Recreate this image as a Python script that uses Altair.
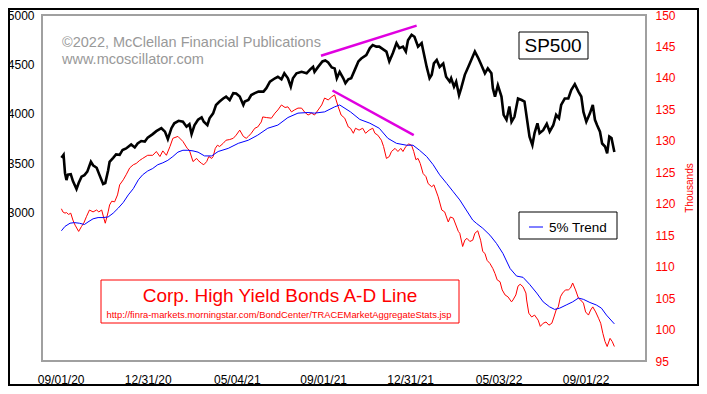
import altair as alt
import pandas as pd

START = "2020-09-01"

# (days since 2020-09-01, S&P 500 close)
sp500 = [(1,3555),(4,3585),(6,3400),(8,3330),(10,3385),(14,3390),(17,3320),(22,3240),(25,3300),(29,3365),
 (33,3380),(37,3415),(42,3515),(45,3480),(50,3455),(54,3380),(59,3290),(62,3300),(66,3430),(68,3515),
 (73,3555),(77,3590),(82,3585),(86,3635),(91,3650),(98,3690),(103,3660),(107,3700),(112,3725),(117,3720),
 (121,3760),(128,3795),(133,3825),(140,3855),(145,3820),(149,3745),(154,3855),(158,3905),(164,3930),(170,3920),
 (175,3870),(179,3895),(182,3795),(186,3885),(191,3940),(196,3965),(199,3920),(204,3885),(207,3955),(212,4005),
 (216,4090),(221,4125),(226,4155),(230,4175),(235,4140),(240,4210),(244,4205),(249,4175),(254,4090),(256,4125),
 (261,4140),(265,4190),(270,4210),(275,4225),(282,4225),(286,4260),(291,4325),(298,4360),(302,4375),(307,4350),
 (311,4410),(316,4360),(320,4275),(323,4360),(328,4410),(335,4425),(342,4410),(347,4450),(351,4475),(353,4425),
 (358,4475),(364,4530),(368,4540),(372,4520),(377,4470),(381,4460),(384,4360),(388,4425),(393,4360),(396,4310),
 (400,4350),(404,4360),(409,4445),(414,4530),(418,4560),(425,4595),(430,4665),(434,4695),(439,4680),(443,4680),
 (450,4645),(453,4630),(457,4530),(462,4615),(467,4715),(471,4665),(476,4680),(480,4630),(483,4745),(488,4800),
 (492,4780),(497,4680),(502,4715),(504,4645),(509,4475),(513,4360),(516,4395),(519,4510),(523,4545),(527,4475),
 (532,4510),(536,4375),(541,4325),(543,4360),(547,4275),(550,4325),(554,4190),(557,4260),(562,4395),(568,4495),
 (576,4630),(581,4560),(585,4495),(590,4410),(594,4460),(599,4410),(601,4260),(604,4175),(608,4290),(613,4175),
 (616,3990),(620,3940),(624,4075),(627,3920),(631,3970),(636,4155),(641,4140),(645,4125),(650,3870),(652,3770),
 (656,3685),(659,3805),(663,3905),(666,3805),(671,3835),(676,3900),(680,3820),(685,3885),(689,3990),(693,3955),
 (696,4090),(701,4155),(706,4155),(710,4240),(715,4300),(720,4225),(724,4175),(727,4020),(731,3920),(736,4005),
 (740,4090),(743,3940),(746,3885),(750,3820),(753,3700),(757,3670),(760,3600),(763,3770),(766,3755),(770,3615)]

# (days since 2020-09-01, Corp. High Yield Bonds A-D line, thousands)
ad_line = [(1,119.2),(3,118.7),(6,118.5),(8,118.6),(11,118.3),(14,118.5),(17,117.4),(20,116.6),(25,115.6),(29,116.4),
 (32,116.9),(36,118.0),(40,119.0),(45,118.7),(50,119.0),(53,118.7),(57,119.0),(60,117.7),(62,116.9),(66,118.7),
 (68,119.8),(71,120.4),(75,120.3),(79,121.4),(82,123.0),(87,123.8),(91,124.6),(96,125.7),(101,126.2),(105,126.4),
 (110,126.9),(114,127.2),(121,127.7),(128,127.7),(133,128.3),(138,127.5),(142,128.4),(147,127.7),(152,129.1),(156,130.4),
 (163,130.7),(170,129.9),(176,128.8),(179,128.5),(184,126.7),(189,127.2),(191,126.9),(196,126.4),(199,126.2),(203,126.7),
 (206,127.5),(210,127.2),(212,127.5),(215,128.8),(218,129.3),(221,129.1),(226,129.6),(230,130.1),(235,130.2),(240,130.4),
 (244,130.9),(249,131.7),(254,130.7),(258,130.4),(261,130.7),(265,131.2),(270,132.0),(274,132.2),(279,133.0),(281,133.8),
 (286,133.7),(293,133.6),(298,134.4),(302,134.9),(307,135.7),(312,135.3),(316,135.4),(321,134.6),(325,134.9),(330,135.2),
 (335,135.2),(339,134.6),(344,134.1),(349,134.4),(353,134.1),(358,134.9),(363,135.7),(367,136.8),(372,136.5),(377,137.0),
 (381,137.3),(383,136.5),(386,135.4),(390,134.1),(395,133.6),(400,132.2),(403,132.0),(407,131.2),(410,132.0),(415,131.7),
 (420,132.0),(424,131.2),(429,131.7),(434,132.0),(437,131.2),(441,130.9),(446,130.1),(449,129.1),(453,127.2),(457,127.5),
 (460,128.3),(465,128.8),(469,128.3),(473,128.8),(476,128.3),(480,129.1),(484,129.5),(488,129.3),(491,128.3),(494,127.0),
 (497,127.2),(500,126.4),(504,124.8),(508,124.3),(511,123.2),(516,122.7),(519,123.0),(525,121.1),(530,119.0),(534,118.7),
 (539,117.1),(542,117.9),(546,117.7),(548,117.1),(553,115.6),(555,115.3),(559,113.2),(562,114.2),(565,114.5),(569,114.0),
 (573,114.2),(576,115.3),(580,115.7),(584,114.2),(587,112.4),(590,112.1),(593,111.0),(597,110.5),(601,109.7),(604,108.9),
 (607,107.9),(611,107.6),(614,106.3),(618,105.5),(622,105.2),(627,104.4),(629,104.7),(633,105.5),(636,106.9),(639,107.2),
 (643,106.8),(647,105.8),(648,104.7),(651,102.6),(655,102.0),(659,102.3),(664,101.5),(667,100.5),(671,101.0),(675,101.2),
 (679,100.7),(683,101.0),(686,102.0),(689,103.1),(692,103.6),(695,105.2),(698,105.8),(702,106.3),(706,106.3),(709,106.6),
 (712,107.4),(716,106.3),(720,105.0),(723,104.7),(727,104.2),(730,102.8),(734,102.3),(737,103.1),(740,103.6),(744,102.8),
 (748,101.8),(751,101.0),(754,99.4),(757,98.1),(760,97.3),(764,98.6),(767,98.1),(770,97.3)]

# (days since 2020-09-01, 5% trend of the A-D line)
trend = [(1,115.7),(6,116.4),(13,116.9),(19,117.0),(26,116.9),(33,116.7),(38,117.1),(45,117.6),(52,117.8),(59,117.8),
 (66,117.9),(73,118.5),(80,119.3),(87,120.2),(94,121.4),(101,122.4),(108,123.8),(114,124.6),(121,125.2),(128,125.6),
 (135,126.2),(142,126.5),(149,126.9),(156,127.5),(163,128.2),(170,128.5),(177,128.5),(184,128.4),(191,128.2),(200,127.6),
 (210,127.6),(219,128.3),(233,128.8),(247,129.6),(261,130.1),(274,130.9),(288,132.0),(302,132.5),(316,133.7),(330,134.4),
 (344,134.5),(353,134.4),(367,134.6),(381,135.4),(388,135.7),(403,134.6),(416,133.4),(430,132.8),(443,132.0),(455,130.4),
 (467,129.6),(481,129.3),(490,129.3),(499,128.5),(509,127.5),(518,126.2),(527,124.6),(537,123.2),(546,121.9),(555,120.6),
 (564,119.0),(573,117.4),(578,116.9),(587,116.1),(597,115.0),(606,113.7),(615,112.1),(625,109.7),(634,108.5),(643,108.3),
 (652,107.2),(662,105.8),(671,104.4),(680,103.6),(687,103.2),(694,103.4),(703,103.9),(712,104.4),(720,105.0),(727,104.8),
 (736,104.3),(745,103.9),(752,103.4),(759,102.3),(770,100.9)]

# divergence lines
sp_div = [(362, 4588), (495, 4892)]
ad_div = [(378, 138.0), (491, 130.9)]

x_tick_dates = [(2020, 9, 1), (2020, 12, 31), (2021, 5, 4), (2021, 9, 1), (2021, 12, 31), (2022, 5, 3), (2022, 9, 1)]
left_ticks = [3000, 3500, 4000, 4500, 5000]
right_ticks = [95, 100, 105, 110, 115, 120, 125, 130, 135, 140, 145, 150]

FONT = "Liberation Sans"
W, H = 604, 346


def frame(points, name):
    base = pd.Timestamp(START)
    return pd.DataFrame({
        "date": [(base + pd.Timedelta(days=d)).strftime("%Y-%m-%d") for d, _ in points],
        name: [v for _, v in points],
    })


def dt(y, m, d):
    return alt.DateTime(year=y, month=m, date=d, utc=True)


x_enc = alt.X(
    "date:T",
    scale=alt.Scale(type="utc", domain=[dt(2020, 8, 6), dt(2022, 11, 24)]),
    axis=alt.Axis(
        values=[dt(*t) for t in x_tick_dates], labelExpr="utcFormat(datum.value, '%m/%d/%y')",
        title=None, domain=False, ticks=False, grid=False, labelFontSize=12,
        labelColor="black", labelPadding=13, labelFont=FONT, labelOverlap=False, labelFlush=False,
    ),
)

sp_scale = alt.Scale(domain=[1500, 5000], nice=False, zero=False)
sp_axis = alt.Axis(orient="left", values=left_ticks, format="d", title=None, domain=False, ticks=False, grid=False,
                   labelFontSize=12, labelColor="black", labelPadding=8, labelFont=FONT)
ad_scale = alt.Scale(domain=[95, 150], nice=False, zero=False)
ad_axis = alt.Axis(orient="right", values=right_ticks, format="d", title=None, domain=False, ticks=False, grid=False,
                   labelFontSize=12, labelColor="#ff0000", labelPadding=9, labelFont=FONT)

sp_line = alt.Chart(frame(sp500, "v")).mark_line(color="black", strokeWidth=2.6).encode(
    x=x_enc, y=alt.Y("v:Q", scale=sp_scale, axis=sp_axis))
sp_div_line = alt.Chart(frame(sp_div, "v")).mark_line(color="#e000e0", strokeWidth=2.5).encode(
    x=x_enc, y=alt.Y("v:Q", scale=sp_scale, axis=sp_axis))
sp_layer = alt.layer(sp_line, sp_div_line)

ad_red = alt.Chart(frame(ad_line, "v")).mark_line(color="#ff0000", strokeWidth=1).encode(
    x=x_enc, y=alt.Y("v:Q", scale=ad_scale, axis=ad_axis))
ad_blue = alt.Chart(frame(trend, "v")).mark_line(color="#0000ff", strokeWidth=1).encode(
    x=x_enc, y=alt.Y("v:Q", scale=ad_scale, axis=ad_axis))
ad_div_line = alt.Chart(frame(ad_div, "v")).mark_line(color="#e000e0", strokeWidth=2.5).encode(
    x=x_enc, y=alt.Y("v:Q", scale=ad_scale, axis=ad_axis))
ad_layer = alt.layer(ad_red, ad_blue, ad_div_line)

one = pd.DataFrame({"k": [0]})


def box(x1, x2, y1, y2, stroke, width=1, fill="white", opacity=1):
    return alt.Chart(one).mark_rect(fill=fill, fillOpacity=opacity, stroke=stroke, strokeWidth=width).encode(
        x=alt.value(x1), x2=alt.value(x2), y=alt.value(y1), y2=alt.value(y2))


def label(txt, x, y, size, color, align="left", baseline="alphabetic", angle=0):
    kw = dict(text=txt, fontSize=size, color=color, align=align, baseline=baseline, font=FONT)
    if angle:
        kw["angle"] = angle
    return alt.Chart(one).mark_text(**kw).encode(x=alt.value(x), y=alt.value(y))


annotations = [
    box(-33, 656, -6, 370, "black", width=2, fill="white", opacity=0),
    label("\u00a92022, McClellan Financial Publications", 20, 31.5, 14.5, "#999999"),
    label("www.mcoscillator.com", 20, 49, 14.5, "#999999"),
    box(477, 546, 17, 44, "black"),
    label("SP500", 511, 37, 19, "black", align="center"),
    box(477, 575, 197, 224, "black"),
    alt.Chart(one).mark_rule(color="#0000ff", strokeWidth=1).encode(
        x=alt.value(487), x2=alt.value(501), y=alt.value(212)),
    label("5% Trend", 507, 216.5, 13.5, "black"),
    box(59, 417, 265, 308, "#ff0000"),
    label("Corp. High Yield Bonds A-D Line", 238, 287, 19, "#ff0000", align="center"),
    label("http://finra-markets.morningstar.com/BondCenter/TRACEMarketAggregateStats.jsp",
          237, 303, 9.4, "#ff0000", align="center"),
    label("Thousands", 648, 173, 10, "#ff0000", align="center", baseline="middle", angle=270),
]

chart = alt.layer(sp_layer, ad_layer, *annotations).resolve_scale(y="independent").properties(
    width=W, height=H,
    autosize=alt.AutoSizeParams(type="none"),
    padding={"left": 34, "top": 7, "right": 53, "bottom": 25},
    background="white",
).configure_view(stroke="#a0a0a0", strokeWidth=2)

chart.save("out.html", embed_options={"renderer": "svg", "actions": False})
